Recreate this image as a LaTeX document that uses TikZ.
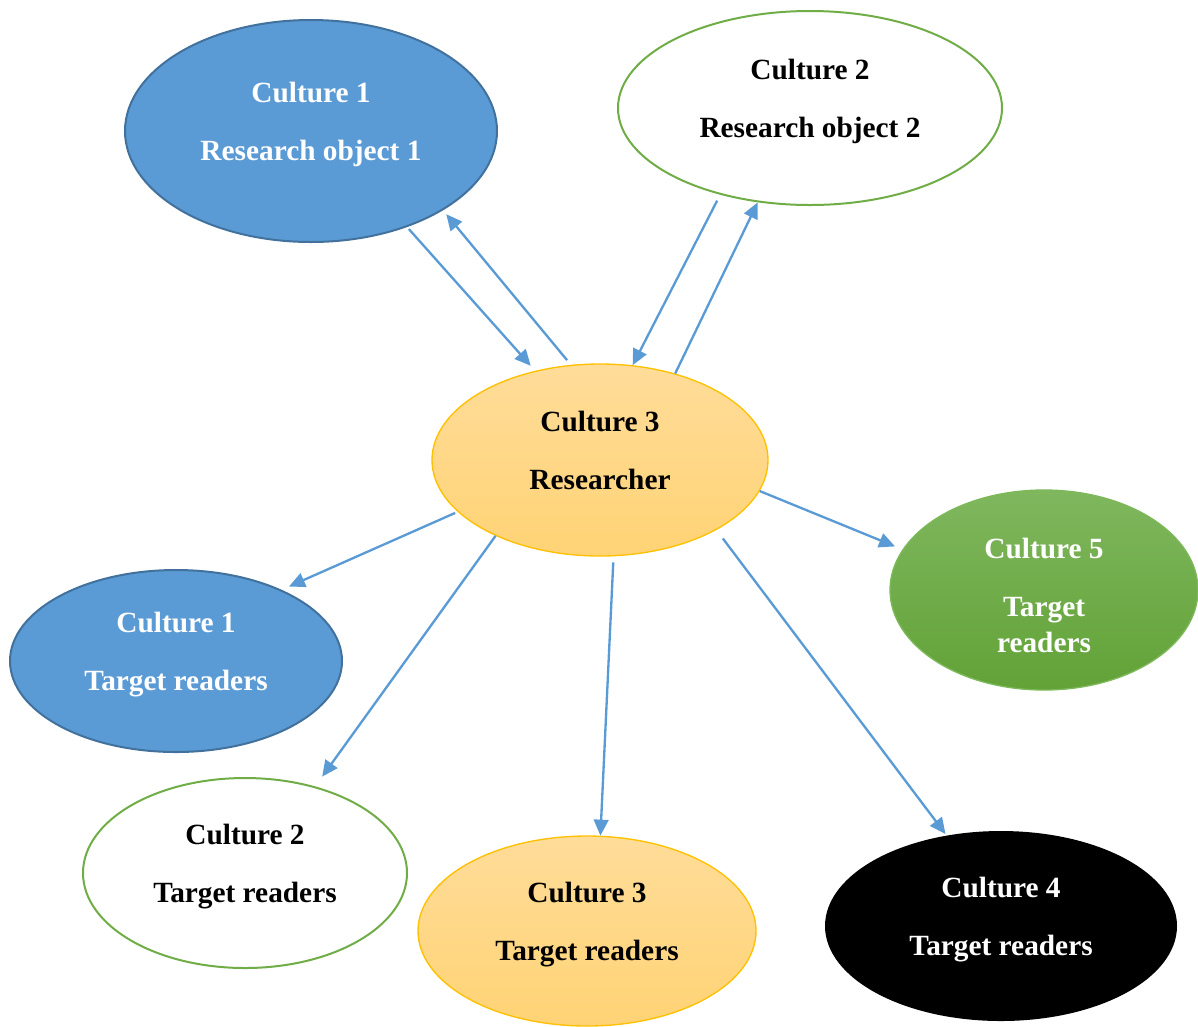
\documentclass[tikz,border=0pt]{standalone}
\usepackage{fontspec}
\setmainfont{Liberation Serif}
\usetikzlibrary{shapes.geometric,arrows.meta}

\tikzset{every picture/.style={line width=0.75pt}}

\begin{document}
\begin{tikzpicture}[x=0.75pt,y=0.75pt,yscale=-1,xscale=1,
  culture/.style={ellipse,draw,line width=1.5pt,inner sep=0pt,align=center,font=\fontsize{22}{27}\selectfont\bfseries},
  bluecult/.style={culture,fill={rgb, 255:red, 91; green, 155; blue, 213 },draw={rgb, 255:red, 65; green, 113; blue, 156 },text=white},
  whitecult/.style={culture,fill=white,draw={rgb, 255:red, 112; green, 173; blue, 71 },text=black},
  yellowcult/.style={culture,top color={rgb, 255:red, 255; green, 220; blue, 153 },bottom color={rgb, 255:red, 255; green, 211; blue, 117 },draw={rgb, 255:red, 255; green, 192; blue, 0 },line width=1pt,text=black},
  greencult/.style={culture,top color={rgb, 255:red, 127; green, 183; blue, 94 },bottom color={rgb, 255:red, 98; green, 162; blue, 55 },draw={rgb, 255:red, 125; green, 185; blue, 90 },line width=1pt,text=white},
  blackcult/.style={culture,fill=black,draw=black,text=white},
  flow/.style={draw={rgb, 255:red, 91; green, 155; blue, 213 },line width=1.75pt,-{Triangle[length=12pt,width=11pt]}}]
%uncomment if require: \path (0,1026); %set diagram left start at 0, and has height of 1026
\useasboundingbox (0,0) rectangle (1198,1026);

%Shape: Ellipse [research object 1]
\node[bluecult,minimum width=279pt,minimum height=166.5pt] (obj1) at (311,131) {Culture 1\\[16.5pt]Research object 1\\[-12pt]\mbox{}};
%Shape: Ellipse [research object 2]
\node[whitecult,minimum width=288pt,minimum height=145.5pt] (obj2) at (810,108) {Culture 2\\[16.5pt]Research object 2\\[-12pt]\mbox{}};
%Shape: Ellipse [researcher]
\node[yellowcult,minimum width=252pt,minimum height=144pt] (res) at (600,460) {Culture 3\\[16.5pt]Researcher\\[-12pt]\mbox{}};
%Shape: Ellipse [readers 5]
\node[greencult,minimum width=231pt,minimum height=150pt] (read5) at (1044,590) {\mbox{}\\[-4pt]Culture 5\\[16.5pt]Target\\readers};
%Shape: Ellipse [readers 1]
\node[bluecult,minimum width=249pt,minimum height=136.5pt] (read1) at (176,661) {Culture 1\\[16.5pt]Target readers\\[-12pt]\mbox{}};
%Shape: Ellipse [readers 2]
\node[whitecult,minimum width=243pt,minimum height=142.5pt] (read2) at (245,873) {Culture 2\\[16.5pt]Target readers\\[-12pt]\mbox{}};
%Shape: Ellipse [readers 3]
\node[yellowcult,minimum width=253.5pt,minimum height=142.5pt] (read3) at (587,931) {Culture 3\\[16.5pt]Target readers\\[-12pt]\mbox{}};
%Shape: Ellipse [readers 4]
\node[blackcult,minimum width=262.5pt,minimum height=141pt] (read4) at (1001,926) {Culture 4\\[16.5pt]Target readers\\[-12pt]\mbox{}};

%Straight Lines [object 1 <-> researcher]
\draw[flow,shorten <=2pt,shorten >=5pt] (obj1.-45) -- (res.126.7);
\draw[flow,shorten <=4.5pt,shorten >=3.75pt] (res.107.7) -- (obj1.-31.5);
%Straight Lines [object 2 <-> researcher]
\draw[flow,shorten <=5pt] (obj2.224.1) -- (res.71.2);
\draw[flow] (res.49.3) -- (obj2.241.7);
%Straight Lines [researcher -> readers]
\draw[flow,shorten >=6pt] (res.-11) -- (read5.164.3);
\draw[flow,shorten <=2pt,shorten >=6pt] (res.200.7) -- (read1.34);
\draw[flow,shorten >=9pt] (res.216.1) -- (read2.51);
\draw[flow,shorten <=4.5pt] (res.-82.7) -- (read3.82.7);
\draw[flow,shorten <=8pt,shorten >=1.5pt] (res.-31) -- (read4.121.6);

\end{tikzpicture}
\end{document}
